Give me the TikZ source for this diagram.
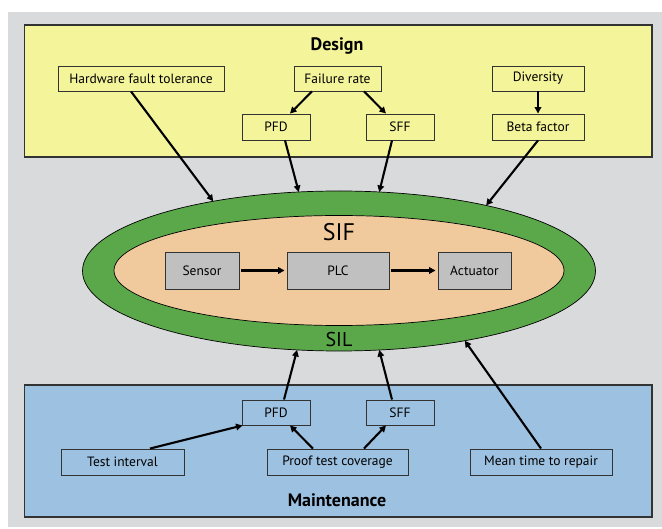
\documentclass[tikz,border=0pt]{standalone}
\usepackage{fontspec}
\setmainfont{PT Sans}
\usetikzlibrary{shapes.geometric,arrows.meta}
\definecolor{bggray}{HTML}{D9DADC}
\definecolor{designfill}{HTML}{F4F49A}
\definecolor{maintfill}{HTML}{9DC1E0}
\definecolor{silgreen}{HTML}{5BA84A}
\definecolor{sifpeach}{HTML}{F0CA9C}
\definecolor{blockgray}{HTML}{C0C0C0}
\definecolor{edge}{HTML}{333333}
\tikzset{
  region/.style={draw=edge, line width=1.1pt},
  param/.style={draw=edge, line width=0.9pt, inner sep=0pt, font=\fontsize{13.5}{15}\selectfont},
  block/.style={draw=edge, line width=0.9pt, fill=blockgray, inner sep=0pt, font=\fontsize{13.5}{15}\selectfont},
  title/.style={font=\fontsize{18}{20}\selectfont\bfseries},
  link/.style={line width=2.1pt, -{Triangle[length=6.5pt,width=6.5pt]}},
}
\begin{document}
\begin{tikzpicture}[x=1pt,y=-1pt]
\useasboundingbox (0,0) rectangle (662,529);
\fill[bggray] (8,12) rectangle (662,527);

% design and maintenance areas
\draw[region, fill=designfill] (24.5,25) rectangle (652,157);
\draw[region, fill=maintfill] (24.5,385) rectangle (652,517);
\node[title] (design) at (337,46) {Design};
\node[title] (maint) at (337,500) {Maintenance};

% the safety instrumented function inside its integrity level
\node[ellipse, draw=black, line width=0.7pt, fill=silgreen, inner sep=0pt, outer sep=0pt,
      minimum width=513pt, minimum height=160pt] (sil) at (339,271) {};
\node[ellipse, draw=black, line width=0.7pt, fill=sifpeach, inner sep=0pt, outer sep=0pt,
      minimum width=450pt, minimum height=110pt] (sif) at (339,270.5) {};
\node[font=\fontsize{24}{26}\selectfont] (siftext) at (339,232) {SIF};
\node[font=\fontsize{20}{22}\selectfont] (siltext) at (339,340) {SIL};

\node[block, minimum width=74pt, minimum height=37pt] (sensor) at (202,270.5) {Sensor};
\node[block, minimum width=102pt, minimum height=37pt] (plc) at (338,270.5) {PLC};
\node[block, minimum width=73pt, minimum height=37pt] (act) at (474.5,270.5) {Actuator};
\draw[link, shorten <=2pt, shorten >=2pt] (sensor) -- (plc);
\draw[link, shorten <=2pt, shorten >=2pt] (plc) -- (act);

% design parameters
\node[param, fill=designfill, minimum width=166pt, minimum height=25pt] (hft) at (141,78.5) {Hardware fault tolerance};
\node[param, fill=designfill, minimum width=87pt, minimum height=25pt] (frate) at (337.5,78.5) {Failure rate};
\node[param, fill=designfill, minimum width=92pt, minimum height=25pt] (div) at (538,78.5) {Diversity};
\node[param, fill=designfill, minimum width=68pt, minimum height=26pt] (dpfd) at (276,127) {PFD};
\node[param, fill=designfill, minimum width=68pt, minimum height=26pt] (dsff) at (400,127) {SFF};
\node[param, fill=designfill, minimum width=92pt, minimum height=26pt] (beta) at (538,127) {Beta factor};

\draw[link] ([xshift=-25.5pt]frate.south) -- ([xshift=14pt]dpfd.north);
\draw[link] ([xshift=26.5pt]frate.south) -- ([xshift=-14pt]dsff.north);
\draw[link] (div) -- (beta);
\draw[link] ([xshift=-10pt]hft.south) -- (sil.151);
\draw[link] ([xshift=9pt]dpfd.south) -- (sil.117.7);
\draw[link] ([xshift=-8pt]dsff.south) -- (sil.63.4);
\draw[link] (beta.south) -- (sil.24);

% maintenance parameters
\node[param, fill=maintfill, minimum width=68pt, minimum height=25pt] (mpfd) at (276,412.5) {PFD};
\node[param, fill=maintfill, minimum width=68pt, minimum height=25pt] (msff) at (400,412.5) {SFF};
\node[param, fill=maintfill, minimum width=123pt, minimum height=26pt] (ti) at (122.5,462) {Test interval};
\node[param, fill=maintfill, minimum width=141pt, minimum height=26pt] (ptc) at (337.5,462) {Proof test coverage};
\node[param, fill=maintfill, minimum width=142pt, minimum height=26pt] (mttr) at (541,462) {Mean time to repair};

\draw[link] ([xshift=27.5pt]ti.north) -- ([xshift=1pt]mpfd.south west);
\draw[link] ([xshift=-24.5pt]ptc.north) -- ([xshift=14pt]mpfd.south);
\draw[link] ([xshift=26.5pt]ptc.north) -- ([xshift=-14pt]msff.south);
\draw[link] ([xshift=8pt]mpfd.north) -- (sil.242);
\draw[link] ([xshift=-8pt]msff.north) -- (sil.297.5);
\draw[link] (mttr.north) -- (sil.331);
\end{tikzpicture}
\end{document}
